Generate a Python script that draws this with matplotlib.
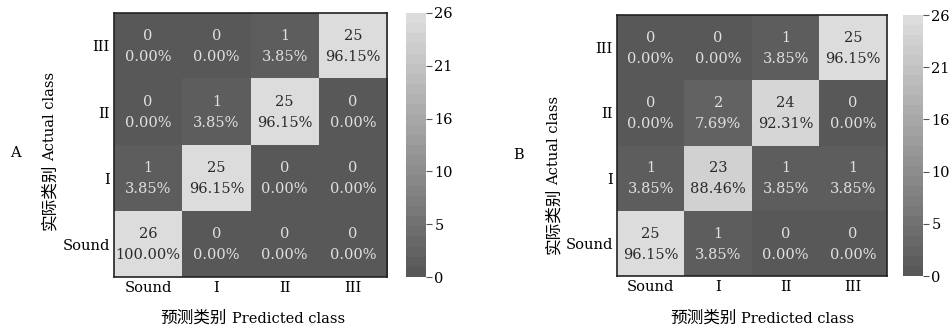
import numpy as np
import matplotlib
matplotlib.use("Agg")
import matplotlib.pyplot as plt
from matplotlib.colors import LinearSegmentedColormap

plt.rcParams['font.family'] = ['DejaVu Serif', 'Noto Sans CJK SC']

classes = ["Sound", "I", "II", "III"]
# rows: actual class (Sound, I, II, III), cols: predicted class
counts_a = [[26, 0, 0, 0],
            [1, 25, 0, 0],
            [0, 1, 25, 0],
            [0, 0, 1, 25]]
pct_a = [["100.00%", "0.00%", "0.00%", "0.00%"],
         ["3.85%", "96.15%", "0.00%", "0.00%"],
         ["0.00%", "3.85%", "96.15%", "0.00%"],
         ["0.00%", "0.00%", "3.85%", "96.15%"]]
counts_b = [[25, 1, 0, 0],
            [1, 23, 1, 1],
            [0, 2, 24, 0],
            [0, 0, 1, 25]]
pct_b = [["96.15%", "3.85%", "0.00%", "0.00%"],
         ["3.85%", "88.46%", "3.85%", "3.85%"],
         ["0.00%", "7.69%", "92.31%", "0.00%"],
         ["0.00%", "0.00%", "3.85%", "96.15%"]]
cbar_ticks = [0, 5.2, 10.4, 15.6, 20.8, 26]
cbar_labels = ["0", "5", "10", "16", "21", "26"]
panel_labels = ["A", "B"]
xlabel_cn, xlabel_en = "预测类别", "Predicted class"
ylabel_cn, ylabel_en = "实际类别", "Actual class"

cmap = LinearSegmentedColormap.from_list("g", ["#585858", "#dcdcdc"], N=26)

W, H = 952, 329
fig = plt.figure(figsize=(W / 100, H / 100), dpi=100)


def fx(x):
    return x / W


def fy(y):
    return 1 - y / H


layouts = [
    dict(ax=[0.1197, 0.158, 0.2868, 0.8025], cb=[0.4265, 0.158, 0.021, 0.8025], lab=(15, 153),
         xl=(227, 232, 323), yl=(164, 161, 54)),
    dict(ax=[0.648, 0.161, 0.2836, 0.793], cb=[0.9485, 0.161, 0.021, 0.793], lab=(519, 155),
         xl=(737, 741, 323), yl=(188, 185, 558)),
]

fs = 10.5
cfs = 12
for counts, pcts, lay, pl in zip([counts_a, counts_b], [pct_a, pct_b], layouts, panel_labels):
    data = np.array(counts, dtype=float)
    ax = fig.add_axes(lay['ax'])
    im = ax.imshow(data, cmap=cmap, vmin=0, vmax=26, origin='lower', aspect='auto')
    for i in range(4):
        for j in range(4):
            c = '#2a2a2a' if data[i, j] > 13 else '#e0e0e0'
            ax.text(j, i + 0.15, f"{counts[i][j]}", ha='center', va='center', fontsize=fs, color=c)
            ax.text(j, i - 0.17, f"{pcts[i][j]}", ha='center', va='center', fontsize=fs, color=c)
    ax.set_xticks(range(4))
    ax.set_xticklabels(classes, fontsize=fs)
    ax.set_yticks(range(4))
    ax.set_yticklabels(classes, fontsize=fs)
    ax.tick_params(length=0, pad=3)
    for s in ax.spines.values():
        s.set_color('#222222')
        s.set_linewidth(1.2)
    # x label: Chinese + English parts
    cx_end, ex_start, base = lay['xl']
    fig.text(fx(cx_end), fy(base), xlabel_cn, fontsize=cfs, ha='right', va='baseline')
    fig.text(fx(ex_start), fy(base), xlabel_en, fontsize=fs, ha='left', va='baseline')
    # y label (rotated)
    cy_top, ey_start, xb = lay['yl']
    fig.text(fx(xb), fy(cy_top), ylabel_cn, fontsize=cfs, rotation=90, rotation_mode='anchor',
             ha='right', va='baseline')
    fig.text(fx(xb), fy(ey_start), ylabel_en, fontsize=fs, rotation=90, rotation_mode='anchor',
             ha='left', va='baseline')
    cax = fig.add_axes(lay['cb'])
    cb = fig.colorbar(im, cax=cax)
    cb.set_ticks(cbar_ticks)
    cb.set_ticklabels(cbar_labels)
    cb.ax.tick_params(labelsize=fs, length=4, width=0.8, color='#555555', pad=2)
    cb.outline.set_visible(False)
    fig.text(fx(lay['lab'][0]), fy(lay['lab'][1]), pl, fontsize=fs, ha='center', va='center')

fig.savefig("out.png", dpi=100, facecolor='white')
